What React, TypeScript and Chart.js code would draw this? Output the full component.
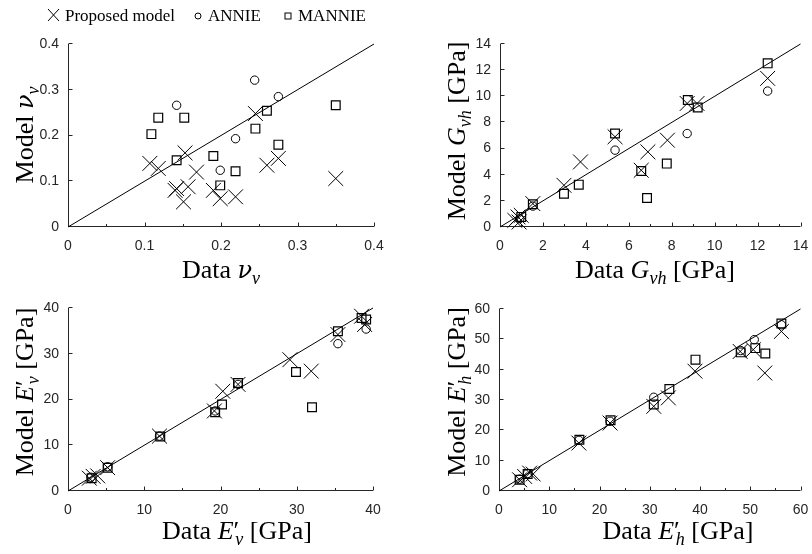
import React, { useEffect, useRef } from "react";
import { Chart, registerables } from "chart.js";

Chart.register(...registerables);

const SERIF = "'Liberation Serif', 'Times New Roman', serif";
const GREEK = "'DejaVu Serif', 'Liberation Serif', serif";
const SANS = "'Liberation Sans', Arial, Helvetica, sans-serif";
const INK = "#262626";

const seriesNames = ["Proposed model", "ANNIE", "MANNIE"];

// ---- Panel 1: nu_v ----
const nuTicks = [0, 0.1, 0.2, 0.3, 0.4];
const nuProposedX = [0.107, 0.118, 0.153, 0.168, 0.142, 0.140, 0.157, 0.151, 0.190, 0.199, 0.219, 0.245, 0.260, 0.275, 0.350];
const nuProposedY = [0.139, 0.128, 0.162, 0.120, 0.084, 0.080, 0.088, 0.055, 0.080, 0.062, 0.066, 0.248, 0.135, 0.150, 0.106];
const nuAnnieX = [0.142, 0.244, 0.275, 0.219, 0.199];
const nuAnnieY = [0.266, 0.321, 0.285, 0.193, 0.124];
const nuMannieX = [0.109, 0.118, 0.152, 0.142, 0.190, 0.199, 0.219, 0.245, 0.260, 0.275, 0.350];
const nuMannieY = [0.203, 0.239, 0.239, 0.146, 0.155, 0.091, 0.122, 0.215, 0.254, 0.180, 0.266];

// ---- Panel 2: G_vh [GPa] ----
const gTicks = [0, 2, 4, 6, 8, 10, 12, 14];
const gProposedX = [0.69, 0.84, 0.99, 0.89, 1.53, 2.98, 3.75, 5.36, 6.58, 6.89, 7.80, 8.72, 9.18, 12.47];
const gProposedY = [0.51, 0.77, 0.89, 0.38, 1.79, 3.19, 4.98, 6.90, 4.34, 5.75, 6.64, 9.45, 9.45, 11.37];
const gAnnieX = [0.92, 1.53, 5.36, 8.72, 12.47];
const gAnnieY = [0.64, 1.60, 5.88, 7.15, 10.40];
const gMannieX = [0.99, 1.53, 2.98, 3.67, 5.36, 6.58, 6.85, 7.77, 8.75, 9.21, 12.47];
const gMannieY = [0.77, 1.74, 2.55, 3.24, 7.15, 4.29, 2.22, 4.85, 9.71, 9.14, 12.52];

// ---- Panel 3: E'_v [GPa] ----
const evTicks = [0, 10, 20, 30, 40];
const evProposedX = [2.8, 3.3, 3.9, 5.2, 12.0, 19.2, 20.3, 22.3, 29.1, 31.9, 35.4, 38.5, 38.9];
const evProposedY = [2.8, 3.2, 3.3, 5.1, 12.0, 17.5, 21.8, 23.3, 28.7, 26.2, 34.2, 38.2, 36.4];
const evAnnieX = [3.0, 5.2, 12.0, 19.3, 22.3, 35.4, 39.1];
const evAnnieY = [3.0, 5.3, 12.0, 17.5, 23.3, 32.2, 35.4];
const evMannieX = [3.1, 5.2, 12.1, 19.3, 20.2, 22.3, 29.9, 32.0, 35.4, 38.5, 39.1];
const evMannieY = [2.8, 5.1, 11.9, 17.2, 18.9, 23.6, 26.0, 18.3, 34.9, 37.8, 37.5];

// ---- Panel 4: E'_h [GPa] ----
const ehTicks = [0, 10, 20, 30, 40, 50, 60];
const ehProposedX = [4.1, 5.1, 6.1, 6.8, 15.9, 22.1, 30.8, 33.7, 39.0, 48.0, 50.6, 52.9, 56.2];
const ehProposedY = [3.7, 4.8, 5.9, 5.6, 15.8, 22.4, 27.9, 30.7, 39.5, 46.0, 46.6, 38.9, 52.6];
const ehAnnieX = [4.1, 5.7, 15.9, 22.1, 30.8, 48.1, 50.8, 56.2];
const ehAnnieY = [3.9, 5.8, 16.7, 23.0, 30.9, 46.3, 49.9, 54.8];
const ehMannieX = [4.1, 5.7, 16.0, 22.2, 30.8, 33.9, 39.1, 48.1, 51.0, 53.0, 56.2];
const ehMannieY = [3.7, 5.6, 16.9, 23.3, 28.5, 33.6, 43.3, 45.7, 47.1, 45.3, 55.2];

type Seg = { t: string; it?: boolean; sub?: boolean; kern?: number; greek?: boolean };
type Kind = "cross" | "circle" | "square";
type Series = { x: number[]; y: number[]; kind: Kind };
type PanelDef = {
  area: [number, number, number, number]; // L, T, R, B (page px)
  ticks: number[];
  series: Series[];
  xTitle: Seg[];
  yTitle: Seg[];
  xTitlePos: [number, number]; // center x, baseline y
  yTitlePos: [number, number]; // baseline x, center y
};

const TITLE_SIZE = 26;

const segFont = (s: Seg, size: number) => {
  let sz = s.sub ? size * 0.7 : size;
  if (s.greek) sz *= 0.92;
  return `${s.it ? "italic " : ""}${Math.round(sz)}px ${s.greek ? GREEK : SERIF}`;
};

function segsWidth(ctx: CanvasRenderingContext2D, segs: Seg[], size: number) {
  let w = 0;
  for (const s of segs) {
    ctx.font = segFont(s, size);
    w += (s.kern || 0) * size + ctx.measureText(s.t).width;
  }
  return w;
}

function drawTitle(
  ctx: CanvasRenderingContext2D,
  segs: Seg[],
  size: number,
  cx: number,
  cy: number,
  rotated: boolean
) {
  const nat = segsWidth(ctx, segs, size);
  ctx.save();
  ctx.translate(cx, cy);
  if (rotated) ctx.rotate(-Math.PI / 2);
  ctx.fillStyle = "#000";
  ctx.textBaseline = "alphabetic";
  ctx.textAlign = "left";
  let x = -nat / 2;
  for (const s of segs) {
    ctx.font = segFont(s, size);
    x += (s.kern || 0) * size;
    ctx.fillText(s.t, x, s.sub ? size * 0.22 : 0);
    x += ctx.measureText(s.t).width;
  }
  ctx.restore();
}

const markerStyle: Record<Kind, { pointStyle: string; pointRadius: number; borderWidth: number }> = {
  cross: { pointStyle: "crossRot", pointRadius: 10.5, borderWidth: 1 },
  circle: { pointStyle: "circle", pointRadius: 4.2, borderWidth: 1 },
  square: { pointStyle: "rect", pointRadius: 6.2, borderWidth: 1.2 },
};

const W = 812;
const H = 554;
const AXW = 60;

function makeAxesPlugin(def: PanelDef) {
  return {
    id: "matlabAxes",
    beforeDatasetsDraw(chart: any) {
      const { ctx, chartArea: a, scales } = chart;
      const xs = scales.x;
      const ys = scales.y;
      ctx.save();
      ctx.strokeStyle = INK;
      ctx.lineWidth = 1;
      ctx.beginPath();
      const L = Math.round(a.left) + 0.5;
      const B = Math.round(a.bottom) - 0.5;
      ctx.moveTo(L, a.top);
      ctx.lineTo(L, B);
      ctx.lineTo(a.right, B);
      const t = def.ticks;
      for (const v of t) {
        const px = Math.round(xs.getPixelForValue(v)) + 0.5;
        ctx.moveTo(px, B);
        ctx.lineTo(px, B - 4);
        const py = Math.round(ys.getPixelForValue(v)) - 0.5;
        ctx.moveTo(L, py);
        ctx.lineTo(L + 4, py);
      }
      for (let i = 0; i < t.length - 1; i++) {
        const mv = (t[i] + t[i + 1]) / 2;
        const px = Math.round(xs.getPixelForValue(mv)) + 0.5;
        ctx.moveTo(px, B);
        ctx.lineTo(px, B - 2.5);
      }
      ctx.stroke();
      ctx.restore();
    },
    afterDraw(chart: any) {
      const ctx = chart.ctx;
      drawTitle(ctx, def.xTitle, TITLE_SIZE, def.xTitlePos[0], def.xTitlePos[1], false);
      drawTitle(ctx, def.yTitle, TITLE_SIZE, def.yTitlePos[0], def.yTitlePos[1], true);
    },
  };
}

const pts = (xs: number[], ys: number[]) => xs.map((x, i) => ({ x, y: ys[i] }));

function Panel({ def }: { def: PanelDef }) {
  const ref = useRef<HTMLCanvasElement | null>(null);
  useEffect(() => {
    if (!ref.current) return;
    const [L, T, R, B] = def.area;
    const max = def.ticks[def.ticks.length - 1];
    const datasets: any[] = [
      {
        data: [
          { x: 0, y: 0 },
          { x: max, y: max },
        ],
        showLine: true,
        pointRadius: 0,
        borderColor: "#000",
        borderWidth: 1,
        clip: false,
      },
      ...def.series.map((s) => ({
        data: pts(s.x, s.y),
        showLine: false,
        pointStyle: markerStyle[s.kind].pointStyle,
        pointRadius: markerStyle[s.kind].pointRadius,
        pointBorderWidth: markerStyle[s.kind].borderWidth,
        borderWidth: markerStyle[s.kind].borderWidth,
        pointBorderColor: "#000",
        borderColor: "#000",
        pointBackgroundColor: "rgba(0,0,0,0)",
        backgroundColor: "rgba(0,0,0,0)",
        clip: false,
      })),
    ];
    const tickFont = { family: SANS, size: 14 };
    const zeroPad = (s: any) => {
      s.paddingLeft = 0;
      s.paddingRight = 0;
      s.paddingTop = 0;
      s.paddingBottom = 0;
    };
    const chart = new Chart(ref.current, {
      type: "scatter",
      data: { datasets },
      options: {
        animation: false,
        responsive: false,
        events: [],
        layout: { padding: { left: L - AXW, top: T, right: W - R, bottom: H - B - AXW } },
        plugins: { legend: { display: false }, tooltip: { enabled: false } },
        scales: {
          x: {
            type: "linear",
            min: 0,
            max,
            grid: { display: false, drawTicks: false },
            border: { display: false },
            ticks: {
              padding: 11,
              color: INK,
              font: tickFont,
              maxRotation: 0,
              autoSkip: false,
              callback: (v: any) => String(v),
            },
            afterBuildTicks: (s: any) => {
              s.ticks = def.ticks.map((v) => ({ value: v }));
            },
            afterFit: (s: any) => {
              s.height = AXW;
              zeroPad(s);
            },
          },
          y: {
            type: "linear",
            min: 0,
            max,
            grid: { display: false, drawTicks: false },
            border: { display: false },
            ticks: {
              padding: 9,
              color: INK,
              font: tickFont,
              autoSkip: false,
              callback: (v: any) => String(v),
            },
            afterBuildTicks: (s: any) => {
              s.ticks = def.ticks.map((v) => ({ value: v }));
            },
            afterFit: (s: any) => {
              s.width = AXW;
              zeroPad(s);
            },
          },
        },
      } as any,
      plugins: [makeAxesPlugin(def)],
    });
    return () => chart.destroy();
  }, [def]);
  return (
    <canvas
      ref={ref}
      width={W}
      height={H}
      style={{ position: "absolute", left: 0, top: 0, width: W, height: H }}
    />
  );
}

const panels: PanelDef[] = [
  {
    area: [68, 44, 374, 227],
    ticks: nuTicks,
    series: [
      { x: nuProposedX, y: nuProposedY, kind: "cross" },
      { x: nuAnnieX, y: nuAnnieY, kind: "circle" },
      { x: nuMannieX, y: nuMannieY, kind: "square" },
    ],
    xTitle: [{ t: "Data " }, { t: "ν", it: true, greek: true }, { t: "v", it: true, sub: true }],
    yTitle: [{ t: "Model " }, { t: "ν", it: true, greek: true }, { t: "v", it: true, sub: true }],
    xTitlePos: [221, 278],
    yTitlePos: [33, 135],
  },
  {
    area: [500, 44, 805, 227],
    ticks: gTicks,
    series: [
      { x: gProposedX, y: gProposedY, kind: "cross" },
      { x: gAnnieX, y: gAnnieY, kind: "circle" },
      { x: gMannieX, y: gMannieY, kind: "square" },
    ],
    xTitle: [{ t: "Data " }, { t: "G", it: true }, { t: "vh", it: true, sub: true }, { t: " [GPa]" }],
    yTitle: [{ t: "Model " }, { t: "G", it: true }, { t: "vh", it: true, sub: true }, { t: " [GPa]" }],
    xTitlePos: [655, 278],
    yTitlePos: [465, 131],
  },
  {
    area: [68, 308, 373, 491],
    ticks: evTicks,
    series: [
      { x: evProposedX, y: evProposedY, kind: "cross" },
      { x: evAnnieX, y: evAnnieY, kind: "circle" },
      { x: evMannieX, y: evMannieY, kind: "square" },
    ],
    xTitle: [
      { t: "Data " },
      { t: "E", it: true },
      { t: "′" },
      { t: "v", it: true, sub: true, kern: -0.15 },
      { t: " [GPa]" },
    ],
    yTitle: [
      { t: "Model " },
      { t: "E", it: true },
      { t: "′" },
      { t: "v", it: true, sub: true, kern: -0.15 },
      { t: " [GPa]" },
    ],
    xTitlePos: [237, 539],
    yTitlePos: [33, 392],
  },
  {
    area: [499, 309, 804, 491],
    ticks: ehTicks,
    series: [
      { x: ehProposedX, y: ehProposedY, kind: "cross" },
      { x: ehAnnieX, y: ehAnnieY, kind: "circle" },
      { x: ehMannieX, y: ehMannieY, kind: "square" },
    ],
    xTitle: [
      { t: "Data " },
      { t: "E", it: true },
      { t: "′" },
      { t: "h", it: true, sub: true, kern: -0.15 },
      { t: " [GPa]" },
    ],
    yTitle: [
      { t: "Model " },
      { t: "E", it: true },
      { t: "′" },
      { t: "h", it: true, sub: true, kern: -0.15 },
      { t: " [GPa]" },
    ],
    xTitlePos: [678, 539],
    yTitlePos: [465, 392],
  },
];

function Legend() {
  const fs = 17;
  return (
    <svg width={W} height={30} style={{ position: "absolute", left: 0, top: 0 }}>
      <line x1={48} y1={9} x2={59} y2={21} stroke="#000" strokeWidth={1} />
      <line x1={59} y1={9} x2={48} y2={21} stroke="#000" strokeWidth={1} />
      <text x={65} y={21} fontFamily={SERIF} fontSize={fs} fill="#000">
        {seriesNames[0]}
      </text>
      <circle cx={198} cy={16} r={3} fill="none" stroke="#000" strokeWidth={1} />
      <text x={208} y={21} fontFamily={SERIF} fontSize={fs} fill="#000">
        {seriesNames[1]}
      </text>
      <rect x={285} y={13} width={6} height={6} fill="none" stroke="#000" strokeWidth={1} />
      <text x={298} y={21} fontFamily={SERIF} fontSize={fs} fill="#000">
        {seriesNames[2]}
      </text>
    </svg>
  );
}

export default function App() {
  return (
    <div
      style={{
        position: "absolute",
        left: 0,
        top: 0,
        width: W,
        height: H,
        background: "#fff",
        overflow: "hidden",
      }}
    >
      {panels.map((p, i) => (
        <Panel key={i} def={p} />
      ))}
      <Legend />
    </div>
  );
}
